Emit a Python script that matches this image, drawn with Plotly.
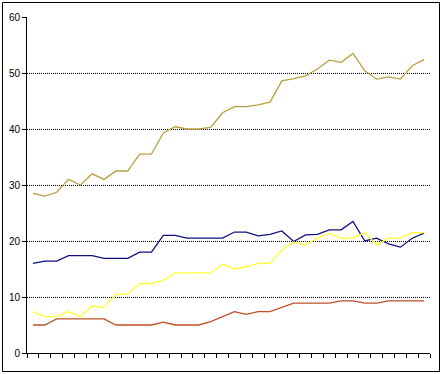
import plotly.graph_objects as go

periods = list(range(1, 35))

olive = [28.5, 28.0, 28.7, 31.0, 30.0, 32.0, 31.0, 32.5, 32.5, 35.5, 35.5, 39.3,
         40.4, 40.0, 40.0, 40.3, 42.9, 44.0, 44.0, 44.3, 44.8, 48.6, 49.0, 49.5,
         50.7, 52.3, 51.9, 53.5, 50.4, 48.9, 49.3, 48.9, 51.3, 52.4]
blue = [16.0, 16.4, 16.4, 17.4, 17.4, 17.4, 16.9, 16.9, 16.9, 18.0, 18.0, 21.0,
        21.0, 20.5, 20.5, 20.5, 20.5, 21.6, 21.6, 20.9, 21.2, 21.8, 19.9, 21.1,
        21.2, 22.0, 22.0, 23.5, 20.0, 20.5, 19.5, 18.9, 20.5, 21.4]
yellow = [7.4, 6.5, 6.5, 7.4, 6.5, 8.4, 8.1, 10.5, 10.5, 12.4, 12.4, 13.0,
          14.3, 14.3, 14.3, 14.3, 15.9, 15.0, 15.4, 16.0, 16.0, 18.4, 19.8, 19.3,
          20.5, 21.4, 20.5, 20.5, 21.5, 19.3, 20.5, 20.5, 21.5, 21.5]
red = [5.0, 5.0, 6.1, 6.1, 6.1, 6.1, 6.1, 5.0, 5.0, 5.0, 5.0, 5.5,
       5.0, 5.0, 5.0, 5.6, 6.5, 7.4, 6.9, 7.4, 7.4, 8.1, 8.9, 8.9,
       8.9, 8.9, 9.3, 9.3, 8.9, 8.9, 9.3, 9.3, 9.3, 9.3]

y_ticks = [0, 10, 20, 30, 40, 50, 60]

series = [
    ("Series 1", olive, "#B8A040"),
    ("Series 2", blue, "#101080"),
    ("Series 3", yellow, "#FFFF30"),
    ("Series 4", red, "#C0502A"),
]

fig = go.Figure()
for name, vals, color in series:
    fig.add_trace(go.Scatter(x=periods, y=vals, mode="lines", name=name,
                             line=dict(color=color, width=1.3)))

n = len(periods)
L, R, T, B = 27, 13, 17, 21
W, H = 443, 374
pw, ph = W - L - R, H - T - B

fig.update_layout(
    width=W, height=H,
    margin=dict(l=L, r=R, t=T, b=B),
    paper_bgcolor="white", plot_bgcolor="white",
    showlegend=False,
    font=dict(family="Liberation Sans, Arial, sans-serif", size=10, color="black"),
    xaxis=dict(range=[0.5, n + 0.5], tickvals=[i + 0.5 for i in range(0, n + 1)],
               ticktext=["" for _ in range(n + 1)], ticks="outside", ticklen=4,
               tickcolor="black", showline=True, linecolor="black", linewidth=1,
               showgrid=False, zeroline=False, fixedrange=True, automargin=False),
    yaxis=dict(range=[0, 60], tickvals=y_ticks, ticks="outside", ticklen=4,
               tickcolor="black", showline=True, linecolor="black", linewidth=1,
               showgrid=True, gridcolor="black", gridwidth=1, griddash="1px,1px",
               zeroline=False, fixedrange=True, automargin=False),
    shapes=[dict(type="rect", xref="paper", yref="paper",
                 x0=(2.5 - L) / pw, x1=(439.5 - L) / pw,
                 y0=(H - B - 371.5) / ph, y1=(H - B - 2.5) / ph,
                 line=dict(color="black", width=1), fillcolor="rgba(0,0,0,0)",
                 layer="below")],
)

fig.write_html("out.html", config={"displayModeBar": False},
               post_script="document.body.style.margin='0';document.body.style.overflow='hidden';")
